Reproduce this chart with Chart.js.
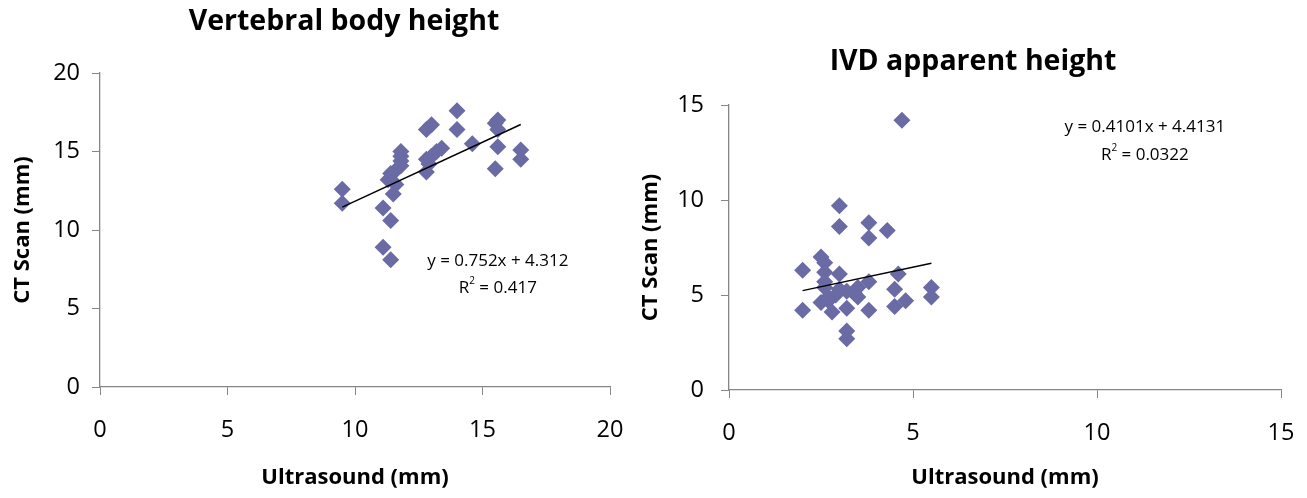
<!DOCTYPE html>
<html>
<head>
<meta charset="utf-8">
<script src="https://cdn.jsdelivr.net/npm/chart.js@4"></script>
<style>
  body { margin: 0; background: #fff; width: 1307px; height: 498px; overflow: hidden; position: relative; }
  .box { position: absolute; top: 0; height: 498px; }
  #left { left: 0; width: 650px; }
  #right { left: 620px; width: 687px; }
</style>
</head>
<body>
<div class="box" id="left"><canvas id="vbChart"></canvas></div>
<div class="box" id="right"><canvas id="ivdChart"></canvas></div>
<script>
// Vertebral body height (mm)
const vbUltrasound = [9.5, 9.5, 11.1, 11.4, 11.1, 11.4, 11.3, 11.5, 11.6, 11.4, 11.6, 11.8, 11.8, 11.8, 11.8,
  12.8, 12.9, 12.8, 13.0, 13.2, 13.4, 12.8, 13.0, 14.0, 14.0, 14.6, 15.5, 15.6, 15.6, 15.6, 15.5, 16.5, 16.5];
const vbCT = [12.6, 11.7, 11.4, 10.6, 8.9, 8.1, 13.2, 12.3, 12.9, 13.6, 13.8, 14.1, 14.4, 14.7, 15.0,
  13.7, 14.2, 14.5, 14.7, 15.0, 15.2, 16.4, 16.7, 17.6, 16.4, 15.5, 16.8, 17.0, 16.4, 15.3, 13.9, 15.1, 14.5];
const vbTrendX = [9.5, 16.5];
const vbTrendY = [11.46, 16.72];
const vbXTicks = [0, 5, 10, 15, 20];
const vbYTicks = [0, 5, 10, 15, 20];

// IVD apparent height (mm)
const ivdUltrasound = [4.7, 3.0, 3.0, 3.8, 3.8, 4.3, 2.0, 2.5, 2.6, 2.6, 3.0, 2.6, 3.8, 4.6, 4.5, 4.8, 4.5,
  5.5, 5.5, 2.0, 2.5, 2.7, 2.8, 3.2, 3.8, 3.2, 3.2, 3.0, 3.2, 3.5, 3.5, 3.4, 2.6, 2.9, 2.7];
const ivdCT = [14.2, 9.7, 8.6, 8.8, 8.0, 8.4, 6.3, 7.0, 6.7, 6.2, 6.1, 5.7, 5.7, 6.1, 5.3, 4.7, 4.4,
  5.4, 4.9, 4.2, 4.6, 4.7, 4.1, 4.3, 4.2, 3.1, 2.7, 5.3, 5.2, 5.4, 4.9, 5.1, 5.4, 5.0, 4.9];
const ivdTrendX = [2.0, 5.5];
const ivdTrendY = [5.23, 6.67];
const ivdXTicks = [0, 5, 10, 15];
const ivdYTicks = [0, 5, 10, 15];

const FONT = '"Open Sans", "Liberation Sans", sans-serif';
const AXIS = '#868686';
const MARKER = '#6a6aa4';

function pairs(xs, ys) {
  return xs.map((x, i) => ({ x: x, y: ys[i] }));
}

// titles and trendline equations
const textPlugin = {
  id: 'chartText',
  afterDraw(chart, args, o) {
    const ctx = chart.ctx;
    const sx = chart.scales.x, sy = chart.scales.y;
    ctx.save();
    ctx.fillStyle = '#000';
    ctx.textBaseline = 'middle';
    ctx.textAlign = 'center';
    ctx.font = 'bold ' + o.titleSize + 'px ' + FONT;
    ctx.fillText(o.title, o.titleX, o.titleY);

    const size = o.eqSize;
    const cx = sx.getPixelForValue(o.eqX);
    ctx.font = size + 'px ' + FONT;
    ctx.fillText(o.eq, cx, sy.getPixelForValue(o.eqY));

    const cy = sy.getPixelForValue(o.r2Y);
    const normal = size + 'px ' + FONT, small = Math.round(size * 0.6) + 'px ' + FONT;
    const rest = ' = ' + o.r2;
    const wa = ctx.measureText('R').width, wb = ctx.measureText(rest).width;
    ctx.font = small;
    const w2 = ctx.measureText('2').width;
    let x = cx - (wa + w2 + wb) / 2;
    ctx.textAlign = 'left';
    ctx.font = normal;
    ctx.fillText('R', x, cy); x += wa;
    ctx.font = small;
    ctx.fillText('2', x, cy - size * 0.38); x += w2;
    ctx.font = normal;
    ctx.fillText(rest, x, cy);
    ctx.restore();
  }
};

function axis(ticksArr, width, height, titleText, titlePad, tickPad) {
  return {
    type: 'linear',
    min: ticksArr[0], max: ticksArr[ticksArr.length - 1],
    afterBuildTicks: s => { s.ticks = ticksArr.map(v => ({ value: v })); },
    afterFit: s => {
      if (width) s.width = width;
      if (height) {
        s.height = height;
        // the big tick padding only pushes labels down, don't reserve it sideways
        s.paddingRight = Math.min(s.paddingRight, 15);
      }
    },
    grid: { drawOnChartArea: false, drawTicks: true, tickLength: 8, color: AXIS, lineWidth: 1 },
    border: { color: AXIS, width: 1.3 },
    ticks: { color: '#000', font: { family: FONT, size: 23.5 }, padding: tickPad },
    title: { display: true, text: titleText, color: '#000', font: { family: FONT, size: 22, weight: 'bold' }, padding: titlePad }
  };
}

function makeChart(id, xs, ys, tx, ty, xt, yt, layout, text) {
  new Chart(document.getElementById(id), {
    type: 'scatter',
    data: {
      datasets: [
        {
          type: 'line',
          data: pairs(tx, ty),
          borderColor: '#000',
          borderWidth: 1.5,
          pointRadius: 0,
          fill: false,
          order: 0
        },
        {
          data: pairs(xs, ys),
          pointStyle: 'rectRot',
          pointRadius: 8.5,
          backgroundColor: MARKER,
          borderColor: MARKER,
          borderWidth: 0,
          order: 1
        }
      ]
    },
    options: {
      responsive: true,
      maintainAspectRatio: false,
      animation: false,
      layout: { padding: layout.padding },
      scales: {
        x: axis(xt, null, layout.xHeight, 'Ultrasound (mm)', 7, 21),
        y: axis(yt, layout.yWidth, null, 'CT Scan (mm)', layout.yTitlePad, layout.yTickPad)
      },
      plugins: {
        legend: { display: false },
        tooltip: { enabled: false },
        chartText: text
      }
    },
    plugins: [textPlugin]
  });
}

makeChart('vbChart', vbUltrasound, vbCT, vbTrendX, vbTrendY, vbXTicks, vbYTicks,
  { padding: { top: 73, right: 40, bottom: 0, left: 0 }, xHeight: 111, yWidth: 100, yTitlePad: 10, yTickPad: 12 },
  { title: 'Vertebral body height', titleSize: 28.5, titleX: 344, titleY: 22,
    eq: 'y = 0.752x + 4.312', eqSize: 17, eqX: 15.6, eqY: 8.0, r2: '0.417', r2Y: 6.3 });

makeChart('ivdChart', ivdUltrasound, ivdCT, ivdTrendX, ivdTrendY, ivdXTicks, ivdYTicks,
  { padding: { top: 105, right: 26, bottom: 0, left: 0 }, xHeight: 108, yWidth: 109, yTitlePad: 18, yTickPad: 17 },
  { title: 'IVD apparent height', titleSize: 28.5, titleX: 353, titleY: 62,
    eq: 'y = 0.4101x + 4.4131', eqSize: 17, eqX: 11.3, eqY: 13.84, r2: '0.0322', r2Y: 12.37 });
</script>
</body>
</html>
